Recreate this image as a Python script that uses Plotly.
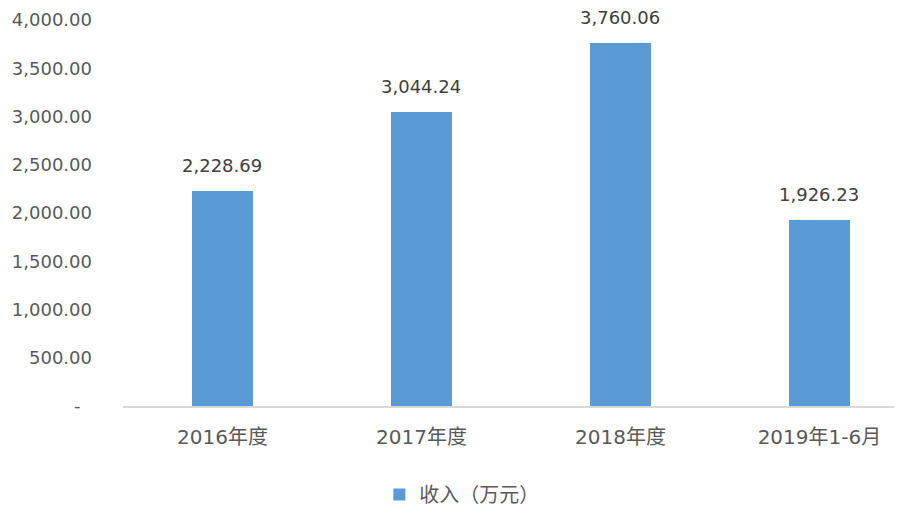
import plotly.graph_objects as go

categories = ["2016年度", "2017年度", "2018年度", "2019年1-6月"]
values = [2228.69, 3044.24, 3760.06, 1926.23]
value_labels = ["2,228.69", "3,044.24", "3,760.06", "1,926.23"]
y_ticks = [0, 500, 1000, 1500, 2000, 2500, 3000, 3500, 4000]
y_tick_labels = ["-\u00a0\u00a0", "500.00", "1,000.00", "1,500.00", "2,000.00",
                 "2,500.00", "3,000.00", "3,500.00", "4,000.00"]
series_name = "收入（万元）"

FONT = "DejaVu Sans, Noto Sans CJK SC"
TXT = "#404040"
TICK = "#595959"

fig = go.Figure()
fig.add_trace(go.Bar(
    x=categories, y=values, name=series_name,
    marker=dict(color="#5B9BD5", line=dict(width=0)),
    width=0.31,
))

for c, v, t in zip(categories, values, value_labels):
    fig.add_annotation(x=c, y=v, text=t, showarrow=False, yanchor="bottom",
                       yshift=13, font=dict(family=FONT, size=18, color=TXT))

fig.update_layout(
    width=894, height=506,
    margin=dict(l=115, r=0, t=12, b=101),
    paper_bgcolor="white", plot_bgcolor="white",
    font=dict(family=FONT, size=18, color=TICK),
    showlegend=True,
    legend=dict(orientation="h", x=0.435, xanchor="center", y=-0.23, yanchor="middle",
                font=dict(family=FONT, size=20, color=TICK)),
    xaxis=dict(range=[-0.5, 3.415], showline=True, linecolor="#D9D9D9", linewidth=2,
               showgrid=False, ticks="", automargin=False, ticklabelstandoff=12,
               tickfont=dict(family=FONT, size=20, color=TICK)),
    yaxis=dict(range=[0, 4000], tickvals=y_ticks, ticktext=y_tick_labels, showgrid=False,
               zeroline=False, showline=False, ticks="", ticklabelstandoff=30, automargin=False,
               tickfont=dict(family=FONT, size=18, color=TICK)),
    bargap=0,
)

fig.write_html("out.html")
